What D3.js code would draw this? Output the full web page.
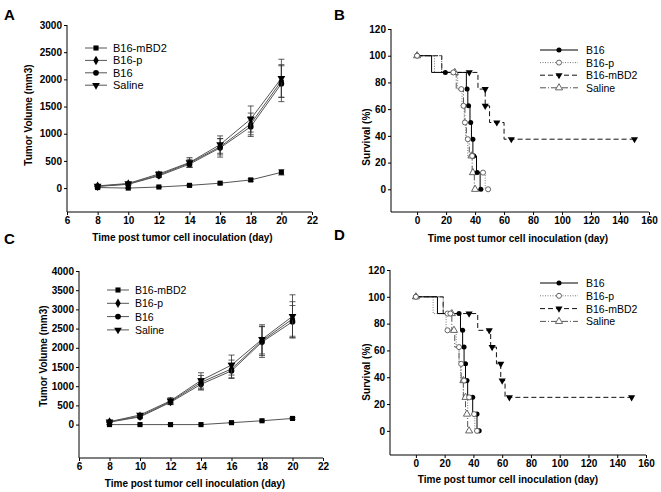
<!DOCTYPE html>
<html>
<head>
<meta charset="utf-8">
<script src="https://d3js.org/d3.v7.min.js"></script>
<style>
  body { margin: 0; background: #fff; }
  text { font-family: "Liberation Sans", Arial, sans-serif; fill: #000; }
  .tick text { font-size: 10px; font-weight: bold; }
  .title { font-size: 10px; font-weight: bold; }
  .letter { font-size: 15px; font-weight: bold; }
</style>
</head>
<body>
<div id="vis"></div>
<script>
// tumor volume data (panels A and C)
var days = [8, 10, 12, 14, 16, 18, 20];
var volNames = ["B16-mBD2", "B16-p", "B16", "Saline"];

var volA_mBD2 = [10, 0, 20, 50, 90, 150, 290];
var volA_B16p = [35, 75, 240, 460, 760, 1180, 1970];
var volA_B16 = [30, 70, 225, 440, 740, 1130, 1920];
var volA_Saline = [40, 85, 260, 470, 800, 1270, 2020];
var errA_mBD2 = [20, 10, 10, 15, 20, 25, 50];
var errA_B16p = [10, 15, 30, 70, 150, 200, 300];
var errA_B16 = [10, 15, 30, 60, 170, 180, 330];
var errA_Saline = [10, 20, 40, 90, 160, 240, 350];

var volC_mBD2 = [0, 0, 0, 0, 50, 100, 160];
var volC_B16p = [70, 220, 600, 1100, 1450, 2180, 2750];
var volC_B16 = [65, 200, 580, 1050, 1400, 2150, 2680];
var volC_Saline = [75, 250, 620, 1150, 1550, 2220, 2820];
var errC_mBD2 = [5, 5, 5, 5, 10, 15, 25];
var errC_B16p = [15, 30, 70, 180, 230, 380, 450];
var errC_B16 = [15, 30, 60, 150, 200, 400, 420];
var errC_Saline = [15, 30, 80, 200, 260, 380, 560];

var volTicksA = [0, 500, 1000, 1500, 2000, 2500, 3000];
var volTicksC = [0, 500, 1000, 1500, 2000, 2500, 3000, 3500, 4000];
var dayTicks = [6, 8, 10, 12, 14, 16, 18, 20, 22];

// survival data (panels B and D), [day, percent]
var survNames = ["B16", "B16-p", "B16-mBD2", "Saline"];

var stepB_B16 = [[0,100],[10,87.5],[34,75],[35,62.5],[36.5,50],[37.5,37.5],[38.5,25],[41,12.5],[43.5,0],[44,0]];
var markB_B16 = [[0,100],[19.5,87.5],[34.5,75],[35.5,62.5],[37,50],[38.5,37.5],[39,25],[41.5,12.5],[44,0]];
var stepB_B16p = [[0,100],[12,87.5],[28,75],[31,62.5],[32.5,50],[33.5,37.5],[35,25],[41,12.5],[47,0],[49,0]];
var markB_B16p = [[0,100],[25,87.5],[30.5,75],[32,62.5],[33,50],[35,37.5],[38,25],[45.5,12.5],[49,0]];
var stepB_mBD2 = [[0,100],[17,87.5],[42,75],[47,62.5],[50,50],[60,37.5],[150,37.5]];
var markB_mBD2 = [[36,87.5],[47,75],[47,62.5],[55,50],[65,37.5],[150,37.5]];
var stepB_Saline = [[0,100],[17,87.5],[27,75],[32,62.5],[33,50],[34,37.5],[36,25],[38,12.5],[39.5,0],[40,0]];
var markB_Saline = [[0,100],[26,87.5],[37.5,25],[38.5,12.5],[40,0]];

var stepD_B16 = [[0,100],[15,87.5],[31,75],[32.5,62.5],[33.5,50],[34.5,37.5],[36,25],[39.5,12.5],[42.5,0],[44,0]];
var markD_B16 = [[0,100],[30,87.5],[32.5,75],[33.5,62.5],[34.5,50],[35.5,37.5],[39.5,25],[42.5,12.5],[44,0]];
var stepD_B16p = [[0,100],[12,87.5],[21,75],[28,62.5],[30,50],[31,37.5],[33,25],[36,12.5],[41,0],[42.5,0]];
var markD_B16p = [[0,100],[22,87.5],[24,87.5],[22,75],[30,62.5],[31.5,50],[33.5,37.5],[37,25],[40.5,12.5],[42.5,0]];
var stepD_mBD2 = [[0,100],[19,87.5],[43,75],[52,62.5],[56,50],[59,37.5],[62,25],[150,25]];
var markD_mBD2 = [[37,87.5],[51,75],[53,62.5],[59,50],[60,37.5],[65,25],[150,25]];
var stepD_Saline = [[0,100],[19,87.5],[25,75],[27,62.5],[30,50],[31.5,37.5],[33,25],[34.5,12.5],[36,0],[37,0]];
var markD_Saline = [[0,100],[25,87.5],[26.5,75],[33,37.5],[34.5,25],[35.5,12.5],[37,0]];

var survTicks = [0, 20, 40, 60, 80, 100, 120];
var timeTicks = [0, 20, 40, 60, 80, 100, 120, 140, 160];

var xTitle = "Time post tumor cell inoculation (day)";

var svg = d3.select("#vis").append("svg")
    .attr("width", 661)
    .attr("height", 492);

// marker shapes
var volSymbols = [d3.symbolSquare, d3.symbolDiamond, d3.symbolCircle, d3.symbolTriangle];
var volSizes = [26, 26, 26, 26];

function drawMarker(g, i, x, y, kind) {
    var m;
    if (kind == "vol") {
        m = g.append("path")
            .attr("d", d3.symbol().type(volSymbols[i]).size(volSizes[i])())
            .attr("fill", "#000");
        if (i == 3) m.attr("transform", "translate(" + x + "," + y + ") rotate(180)");
        else m.attr("transform", "translate(" + x + "," + y + ")");
    } else {
        // B16 filled circle, B16-p open circle, mBD2 filled down triangle, Saline open triangle
        var type = (i < 2) ? d3.symbolCircle : d3.symbolTriangle;
        m = g.append("path")
            .attr("d", d3.symbol().type(type).size(i < 2 ? 20 : 22)())
            .attr("fill", (i == 0 || i == 2) ? "#000" : "#fff")
            .attr("stroke", (i == 1 || i == 3) ? "#555" : "none")
            .attr("stroke-width", 0.9)
            .attr("transform", "translate(" + x + "," + y + ")" + (i == 2 ? " rotate(180)" : ""));
    }
    return m;
}

function drawAxes(g, p, xTicks, yTicks) {
    var xAxis = d3.axisBottom(p.x).tickValues(xTicks).tickSize(3).tickPadding(2).tickFormat(d3.format("d"));
    var yAxis = d3.axisLeft(p.y).tickValues(yTicks).tickSize(3).tickPadding(2).tickFormat(d3.format("d"));
    var gx = g.append("g").attr("transform", "translate(0," + p.y1 + ")").call(xAxis);
    var gy = g.append("g").attr("transform", "translate(" + p.x0 + ",0)").call(yAxis);
    [gx, gy].forEach(function(a) {
        a.select(".domain").attr("stroke", "#000").attr("stroke-width", 1)
            .attr("d", a === gx ? "M" + p.x0 + ",0H" + p.x1 : "M0," + p.y0 + "V" + p.y1);
        a.selectAll(".tick line").attr("stroke", "#000");
        a.selectAll(".tick text").attr("fill", "#000");
    });
}

function makeScales(p) {
    p.x = d3.scaleLinear().domain(p.xd).range([p.x0, p.x1]);
    p.y = d3.scaleLinear().domain(p.yd).range([p.y1, p.y0]);
}

// volume panel
function volumePanel(p, vals, errs, yTicks) {
    makeScales(p);
    var g = svg.append("g");
    drawAxes(g, p, dayTicks, yTicks);

    var line = d3.line()
        .x(function(d, i) { return p.x(days[i]); })
        .y(function(d) { return p.y(d); });

    vals.forEach(function(v, s) {
        g.append("path")
            .datum(v)
            .attr("d", line)
            .attr("fill", "none")
            .attr("stroke", "#555")
            .attr("stroke-width", 1);
    });
    vals.forEach(function(v, s) {
        v.forEach(function(d, i) {
            var cx = p.x(days[i]);
            var top = p.y(d + errs[s][i]), bot = p.y(d - errs[s][i]);
            g.append("path")
                .attr("d", "M" + cx + "," + top + "V" + bot +
                      "M" + (cx - 3) + "," + top + "H" + (cx + 3) +
                      "M" + (cx - 3) + "," + bot + "H" + (cx + 3))
                .attr("stroke", "#333")
                .attr("stroke-width", 0.8)
                .attr("fill", "none");
            drawMarker(g, s, cx, p.y(d), "vol");
        });
    });

    // legend
    volNames.forEach(function(name, s) {
        var ly = p.ly + s * p.ldy;
        g.append("line").attr("x1", p.lx).attr("x2", p.lx + 22)
            .attr("y1", ly).attr("y2", ly)
            .attr("stroke", "#555").attr("stroke-width", 1);
        drawMarker(g, s, p.lx + 11, ly, "vol");
        g.append("text").attr("x", p.lx + 28).attr("y", ly + 4)
            .style("font-size", p.lfs + "px").text(name);
    });

    g.append("text").attr("class", "title")
        .attr("x", (p.x0 + p.x1) / 2 + p.tdx).attr("y", p.ty)
        .attr("text-anchor", "middle").text(xTitle);
    g.append("text").attr("class", "title")
        .attr("transform", "translate(" + p.ytx + "," + p.yty + ") rotate(-90)")
        .attr("text-anchor", "middle").text("Tumor Volume (mm3)");
    g.append("text").attr("class", "letter").attr("x", p.lx0).attr("y", p.ly0).text(p.letter);
}

var survDash = ["none", "1,1.5", "5,3", "6,2,1,2"];
var survColor = ["#000", "#777", "#111", "#555"];

function survivalPanel(p, steps, marks) {
    makeScales(p);
    var g = svg.append("g");
    drawAxes(g, p, timeTicks, survTicks);

    var line = d3.line()
        .curve(d3.curveStepAfter)
        .x(function(d) { return p.x(d[0]); })
        .y(function(d) { return p.y(d[1]); });

    // draw mBD2 and Saline first so solid B16 sits on top
    [2, 3, 1, 0].forEach(function(s) {
        g.append("path")
            .datum(steps[s])
            .attr("d", line)
            .attr("fill", "none")
            .attr("stroke", survColor[s])
            .attr("stroke-width", 1)
            .attr("stroke-dasharray", survDash[s]);
    });
    [2, 3, 0, 1].forEach(function(s) {
        marks[s].forEach(function(d) {
            drawMarker(g, s, p.x(d[0]), p.y(d[1]), "surv");
        });
    });

    survNames.forEach(function(name, s) {
        var ly = p.ly + s * p.ldy;
        g.append("line").attr("x1", p.lx).attr("x2", p.lx + 38)
            .attr("y1", ly).attr("y2", ly)
            .attr("stroke", survColor[s]).attr("stroke-width", 1)
            .attr("stroke-dasharray", survDash[s]);
        drawMarker(g, s, p.lx + 19, ly, "surv");
        g.append("text").attr("x", p.lx + 46).attr("y", ly + 4)
            .style("font-size", p.lfs + "px").text(name);
    });

    g.append("text").attr("class", "title")
        .attr("x", p.tx).attr("y", p.ty)
        .attr("text-anchor", "middle").text(xTitle);
    g.append("text").attr("class", "title")
        .attr("transform", "translate(" + p.ytx + "," + p.yty + ") rotate(-90)")
        .attr("text-anchor", "middle").text("Survival (%)");
    g.append("text").attr("class", "letter").attr("x", p.lx0).attr("y", p.ly0).text(p.letter);
}

volumePanel({x0: 67, x1: 312, y0: 25, y1: 212, xd: [6, 22], yd: [-440, 3000],
             lx: 85, ly: 48, ldy: 12.4, lfs: 11, tdx: -7, ty: 241, ytx: 32, yty: 115,
             lx0: 4, ly0: 20, letter: "A"},
            [volA_mBD2, volA_B16p, volA_B16, volA_Saline],
            [errA_mBD2, errA_B16p, errA_B16, errA_Saline], volTicksA);

volumePanel({x0: 79, x1: 323, y0: 271, y1: 458, xd: [6, 22], yd: [-870, 4000],
             lx: 107, ly: 290, ldy: 13.3, lfs: 10.5, tdx: -6, ty: 487, ytx: 47, yty: 356,
             lx0: 4, ly0: 244, letter: "C"},
            [volC_mBD2, volC_B16p, volC_B16, volC_Saline],
            [errC_mBD2, errC_B16p, errC_B16, errC_Saline], volTicksC);

survivalPanel({x0: 391, x1: 649, y0: 29, y1: 212, xd: [-18, 160], yd: [-17, 120],
               lx: 540, ly: 50, ldy: 12.6, lfs: 10.5, tx: 518, ty: 242, ytx: 370, yty: 137,
               lx0: 334, ly0: 20, letter: "B"},
              [stepB_B16, stepB_B16p, stepB_mBD2, stepB_Saline],
              [markB_B16, markB_B16p, markB_mBD2, markB_Saline]);

survivalPanel({x0: 390, x1: 646, y0: 270, y1: 455, xd: [-18, 160], yd: [-18, 120],
               lx: 540, ly: 283, ldy: 12.8, lfs: 10.5, tx: 508, ty: 483, ytx: 370, yty: 372,
               lx0: 334, ly0: 240, letter: "D"},
              [stepD_B16, stepD_B16p, stepD_mBD2, stepD_Saline],
              [markD_B16, markD_B16p, markD_mBD2, markD_Saline]);
</script>
</body>
</html>
